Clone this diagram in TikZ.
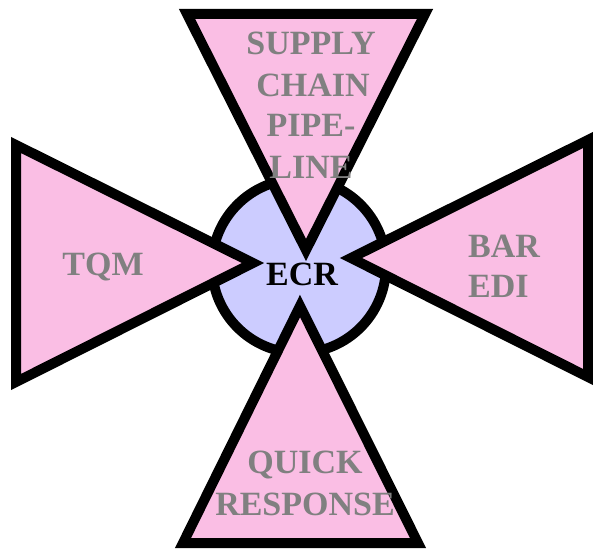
\documentclass[tikz,border=0pt]{standalone}
\usepackage{fontspec}
\setmainfont{Liberation Serif}
\definecolor{petal}{RGB}{250,190,228}
\definecolor{hub}{RGB}{204,204,255}
\definecolor{lab}{RGB}{128,128,128}
\begin{document}
\begin{tikzpicture}[x=1pt,y=-1pt,
  thickline/.style={line width=10pt,line join=miter,miter limit=10,draw=black},
  petalfill/.style={thickline,fill=petal},
  txt/.style={font=\fontsize{34}{41}\selectfont\bfseries,text=lab,inner sep=0pt,anchor=base},
]
\useasboundingbox (0,0) rectangle (593,548);
\node[circle,thickline,fill=hub,minimum size=174pt,inner sep=0pt] (hubc) at (299,266) {};
% top
\coordinate (t1) at (187,14); \coordinate (t2) at (425,14); \coordinate (t3) at (306,250);
\draw[petalfill] (t1) -- (t2) -- (t3) -- cycle;
% left
\coordinate (l1) at (16,145); \coordinate (l2) at (16,382); \coordinate (l3) at (253,263);
\draw[petalfill] (l1) -- (l3) -- (l2) -- cycle;
% right
\coordinate (r1) at (588,140); \coordinate (r2) at (588,377); \coordinate (r3) at (351,258);
\draw[petalfill] (r1) -- (r2) -- (r3) -- cycle;
% bottom
\coordinate (b1) at (183,543); \coordinate (b2) at (418,543); \coordinate (b3) at (300,306);
\draw[petalfill] (b1) -- (b3) -- (b2) -- cycle;
% labels
\node[txt] (s1) at (311,55) {SUPPLY};
\node[txt] (s2) at (313,97) {CHAIN};
\node[txt] (s3) at (311,137) {PIPE-};
\node[txt] (s4) at (311,178) {LINE};
\node[txt] (tqm) at (103,275) {TQM};
\node[txt,anchor=base west] (bar) at (468,257) {BAR};
\node[txt,anchor=base west] (edi) at (468,297) {EDI};
\node[txt] (q1) at (305,473) {QUICK};
\node[txt] (q2) at (305,515) {RESPONSE};
\node[txt,text=black] (ecr) at (302,285) {ECR};
\end{tikzpicture}
\end{document}
